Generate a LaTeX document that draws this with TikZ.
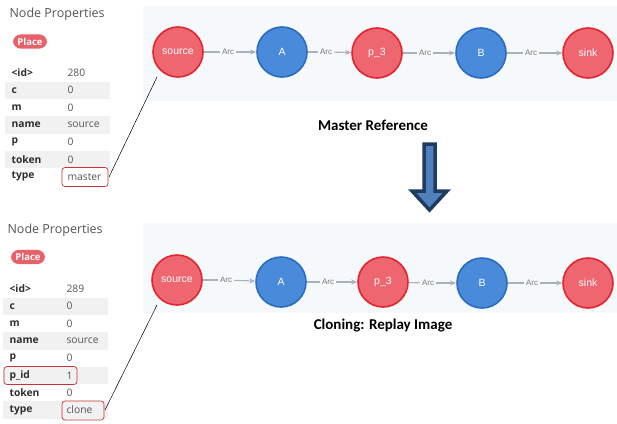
\documentclass[tikz,border=0pt]{standalone}
\usepackage{fontspec}
\setmainfont{Open Sans}
\newfontfamily\graphfont{Liberation Sans}
\newfontfamily\capfont{Carlito}
\usetikzlibrary{arrows.meta}

\definecolor{panelbg}{HTML}{F5F9FC}
\definecolor{placefill}{HTML}{EE6670}
\definecolor{placeline}{HTML}{E2262F}
\definecolor{transfill}{HTML}{4A8ADA}
\definecolor{transline}{HTML}{2C6CC0}
\definecolor{edgegrey}{HTML}{A9B1BA}
\definecolor{arctext}{HTML}{777777}
\definecolor{stripe}{HTML}{F1F1F1}
\definecolor{keytext}{HTML}{2E2E2E}
\definecolor{valtext}{HTML}{555555}
\definecolor{headtext}{HTML}{555555}
\definecolor{badge}{HTML}{E8606A}
\definecolor{markred}{HTML}{C8323A}
\definecolor{arrowfill}{HTML}{4F81BD}
\definecolor{arrowline}{HTML}{213B5E}

\tikzset{
  place/.style={circle, minimum size=50pt, inner sep=0pt, fill=placefill,
    draw=placeline, line width=1.6pt, text=white, font=\graphfont\fontsize{10.5}{12}\selectfont},
  trans/.style={place, fill=transfill, draw=transline},
  arclabel/.style={fill=panelbg, inner sep=2pt, text=arctext, font=\graphfont\fontsize{8}{9}\selectfont},
  edge/.style={draw=edgegrey, line width=1.1pt},
  arcarrow/.style={edge, -{Stealth[length=6pt,width=5pt]}},
  heading/.style={anchor=west, text=headtext, font=\fontsize{12.5}{14}\selectfont},
  badgebox/.style={fill=badge, rounded corners=8pt, text=white, inner xsep=4.5pt, inner ysep=3.5pt,
    font=\bfseries\fontsize{9.5}{11}\selectfont},
  keycell/.style={anchor=west, text=keytext, font=\bfseries\fontsize{10.3}{12}\selectfont},
  valcell/.style={anchor=west, text=valtext, font=\fontsize{10.3}{12}\selectfont},
  markbox/.style={draw=markred, rounded corners=3pt, line width=0.7pt},
  pointer/.style={draw=black, line width=0.5pt},
  caption/.style={font=\capfont\bfseries\fontsize{15}{18}\selectfont},
}

\begin{document}
\begin{tikzpicture}[x=1pt, y=-1pt]
\useasboundingbox (0,0) rectangle (617,423);
\fill[white] (0,0) rectangle (617,423);

% ---------- graph panels ----------
\fill[panelbg] (143,6) rectangle (617,101);
\fill[panelbg] (143,223) rectangle (617,313);

% master net
\node[place] (s1) at (178,52) {source};
\node[trans] (a1) at (282,52) {A};
\node[place] (p1) at (377,53) {p\_3};
\node[trans] (b1) at (481,53) {B};
\node[place] (k1) at (588,53) {sink};
\node[arclabel] (l11) at (228,52) {Arc};
\node[arclabel] (l12) at (326,52) {Arc};
\node[arclabel] (l13) at (425,53) {Arc};
\node[arclabel] (l14) at (531,53) {Arc};
\draw[edge] (s1) -- (l11); \draw[arcarrow] (l11) -- (a1);
\draw[edge] (a1) -- (l12); \draw[arcarrow] (l12) -- (p1);
\draw[edge] (p1) -- (l13); \draw[arcarrow] (l13) -- (b1);
\draw[edge] (b1) -- (l14); \draw[arcarrow] (l14) -- (k1);

% replayed net
\node[place] (s2) at (177,280) {source};
\node[trans] (a2) at (281,282) {A};
\node[place] (p2) at (383,282) {p\_3};
\node[trans] (b2) at (482,283) {B};
\node[place] (k2) at (588,283) {sink};
\node[arclabel] (l21) at (226,280) {Arc};
\node[arclabel] (l22) at (328,282) {Arc};
\node[arclabel] (l23) at (428,283) {Arc};
\node[arclabel] (l24) at (532,283) {Arc};
\draw[edge] (s2) -- (l21); \draw[arcarrow] (l21) -- (a2);
\draw[edge] (a2) -- (l22); \draw[arcarrow] (l22) -- (p2);
\draw[edge] (p2) -- (l23); \draw[arcarrow] (l23) -- (b2);
\draw[edge] (b2) -- (l24); \draw[arcarrow] (l24) -- (k2);

% captions
\node[caption] (cap1) at (373,125) {Master Reference};
\node[caption] (cap2) at (383,326) {Cloning: Replay Image};

% block arrow between the nets
\draw[fill=arrowfill, draw=arrowline, line width=3.5pt, line join=miter]
  (424,144) -- (435,144) -- (435,191) -- (447,191) -- (429.5,210)
  -- (412,191) -- (424,191) -- cycle;

% ---------- property table: master ----------
\node[heading] (h1) at (6,14) {Node Properties};
\node[badgebox] (bd1) at (30,41.5) {Place};
\fill[stripe] (5,81.7) rectangle (110,98.9);
\fill[stripe] (5,116.3) rectangle (110,133.5);
\fill[stripe] (5,150.9) rectangle (110,168.1);
\node[keycell] (k1a) at (8,73)    {<id>};   \node[valcell] (v1a) at (64,73)    {280};
\node[keycell] (k1b) at (8,90.3)  {c};      \node[valcell] (v1b) at (64,90.3)  {0};
\node[keycell] (k1c) at (8,107.6) {m};      \node[valcell] (v1c) at (64,107.6) {0};
\node[keycell] (k1d) at (8,124.9) {name};   \node[valcell] (v1d) at (64,124.9) {source};
\node[keycell] (k1e) at (8,142.2) {p};      \node[valcell] (v1e) at (64,142.2) {0};
\node[keycell] (k1f) at (8,159.5) {token};  \node[valcell] (v1f) at (64,159.5) {0};
\node[keycell] (k1g) at (8,176.8) {type};   \node[valcell] (v1g) at (64,176.8) {master};
\draw[markbox] (62,167.5) rectangle (108,186.5);
\coordinate (m1) at (109,177);
\coordinate (t1) at (157,77);
\draw[pointer] (m1) -- (t1);

% ---------- property table: clone ----------
\node[heading] (h2) at (4,230) {Node Properties};
\node[badgebox] (bd2) at (28,257) {Place};
\fill[stripe] (3,297.6) rectangle (108,314.9);
\fill[stripe] (3,332.2) rectangle (108,349.5);
\fill[stripe] (3,366.8) rectangle (108,384.1);
\fill[stripe] (3,401.4) rectangle (108,418.7);
\node[keycell] (k2a) at (6,289)    {<id>};   \node[valcell] (v2a) at (63,289)    {289};
\node[keycell] (k2b) at (6,306.3)  {c};      \node[valcell] (v2b) at (63,306.3)  {0};
\node[keycell] (k2c) at (6,323.6)  {m};      \node[valcell] (v2c) at (63,323.6)  {0};
\node[keycell] (k2d) at (6,340.9)  {name};   \node[valcell] (v2d) at (63,340.9)  {source};
\node[keycell] (k2e) at (6,358.2)  {p};      \node[valcell] (v2e) at (63,358.2)  {0};
\node[keycell] (k2f) at (6,375.5)  {p\_id};  \node[valcell] (v2f) at (63,375.5)  {1};
\node[keycell] (k2g) at (6,392.8)  {token};  \node[valcell] (v2g) at (63,392.8)  {0};
\node[keycell] (k2h) at (6,410.1)  {type};   \node[valcell] (v2h) at (63,410.1)  {clone};
\draw[markbox] (4,366.5) rectangle (77,384.5);
\draw[markbox] (62,401) rectangle (104,420);
\coordinate (m2) at (105,410);
\coordinate (t2) at (157,305);
\draw[pointer] (m2) -- (t2);
\end{tikzpicture}
\end{document}
